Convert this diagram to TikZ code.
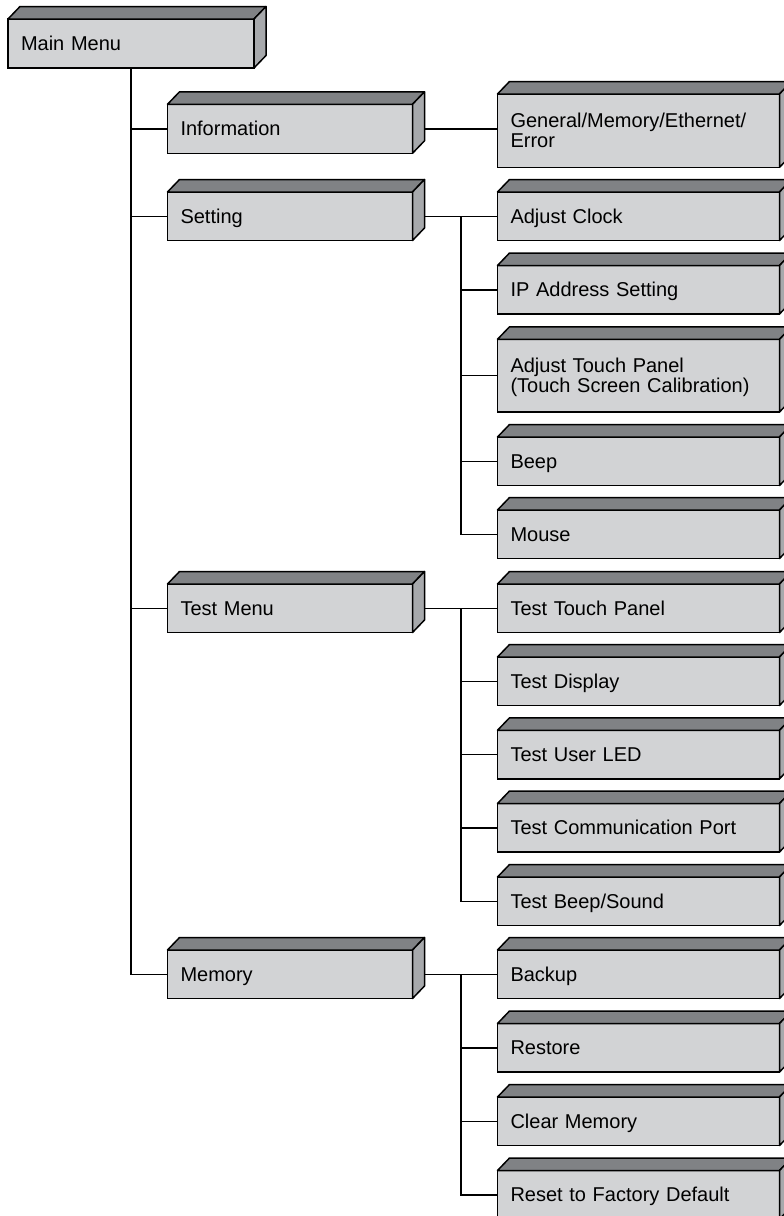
\documentclass[tikz,border=0pt]{standalone}
\usepackage{fontspec}
\setmainfont{Liberation Sans}
\definecolor{frontc}{HTML}{D2D3D5}
\definecolor{topc}{HTML}{808285}
\definecolor{sidec}{HTML}{A7A9AC}
\tikzset{
  front/.style={draw=black, line width=1.5pt, fill=frontc, anchor=north west,
    inner xsep=13pt, inner ysep=0pt, outer sep=0pt, align=left,
    font=\fontsize{20}{20}\selectfont, text height=14.3pt, text depth=0pt},
  twoline/.style={text depth=20pt},
  topf/.style={draw=black, line width=1.5pt, fill=topc, line join=round},
  sidef/.style={draw=black, line width=1.5pt, fill=sidec, line join=round},
  conn/.style={draw=black, line width=1.5pt}
}
% name, x, y, width, height, extra style, text
\newcommand\menubox[7]{%
  \pgfmathsetmacro\mytw{#4-26}%
  \node[front, minimum width=#4pt, minimum height=#5pt, text width=\mytw pt, #6] (#1) at (#2,#3) {#7};
  \draw[topf] (#1.north west) -- ([shift={(12pt,12.5pt)}]#1.north west)
     -- ([shift={(12pt,12.5pt)}]#1.north east) -- (#1.north east) -- cycle;
  \draw[sidef] (#1.north east) -- ([shift={(12pt,12.5pt)}]#1.north east)
     -- ([shift={(12pt,12.5pt)}]#1.south east) -- (#1.south east) -- cycle;
}
\begin{document}
\begin{tikzpicture}[x=1pt,y=-1pt]
\useasboundingbox (0,0) rectangle (784,1216);
\clip (0,0) rectangle (784,1216);
% left column
\menubox{main}{8}{19}{246}{49}{}{Main Menu}
\menubox{info}{167.5}{104.3}{245}{49}{}{Information}
\menubox{set}{167.5}{192}{245}{48.5}{}{Setting}
\menubox{test}{167.5}{584}{245}{48.5}{}{Test Menu}
\menubox{mem}{167.5}{950}{245}{48.5}{}{Memory}
% right column
\menubox{gen}{497.5}{94}{282}{73.3}{twoline}{General/Memory/Ethernet/\\Error}
\menubox{ac}{497.5}{192}{282}{48.5}{}{Adjust Clock}
\menubox{ip}{497.5}{265.5}{282}{48.5}{}{IP Address Setting}
\menubox{atp}{497.5}{339.3}{282}{72.7}{twoline}{Adjust Touch Panel\\(Touch Screen Calibration)}
\menubox{beep}{497.5}{437}{282}{48.5}{}{Beep}
\menubox{mouse}{497.5}{510}{282}{48.5}{}{Mouse}
\menubox{ttp}{497.5}{584}{282}{48.5}{}{Test Touch Panel}
\menubox{td}{497.5}{657}{282}{48.5}{}{Test Display}
\menubox{tul}{497.5}{730.3}{282}{48.5}{}{Test User LED}
\menubox{tcp}{497.5}{803.5}{282}{48.5}{}{Test Communication Port}
\menubox{tbs}{497.5}{877}{282}{48.5}{}{Test Beep/Sound}
\menubox{bak}{497.5}{950}{282}{48.5}{}{Backup}
\menubox{res}{497.5}{1023.5}{282}{48.5}{}{Restore}
\menubox{clr}{497.5}{1097}{282}{48.5}{}{Clear Memory}
\menubox{rst}{497.5}{1170.5}{282}{48.5}{}{Reset to Factory Default}
% main trunk
\draw[conn] (main.south) |- (mem.west);
\foreach \n in {info,set,test} \draw[conn] (\n.west) -- (\n.west -| main.south);
% information
\draw[conn] ([xshift=12pt]info.east) -- (info.east -| gen.west);
% bus
\coordinate (bus) at (461,0);
% setting
\draw[conn] ([xshift=12pt]set.east) -- (set.east -| ac.west);
\draw[conn] (set.east -| bus) |- (mouse.west);
\foreach \n in {ip,atp,beep} \draw[conn] (\n.west) -- (\n.west -| bus);
% test menu
\draw[conn] ([xshift=12pt]test.east) -- (test.east -| ttp.west);
\draw[conn] (test.east -| bus) |- (tbs.west);
\foreach \n in {td,tul,tcp} \draw[conn] (\n.west) -- (\n.west -| bus);
% memory
\draw[conn] ([xshift=12pt]mem.east) -- (mem.east -| bak.west);
\draw[conn] (mem.east -| bus) |- (rst.west);
\foreach \n in {res,clr} \draw[conn] (\n.west) -- (\n.west -| bus);
\end{tikzpicture}
\end{document}
